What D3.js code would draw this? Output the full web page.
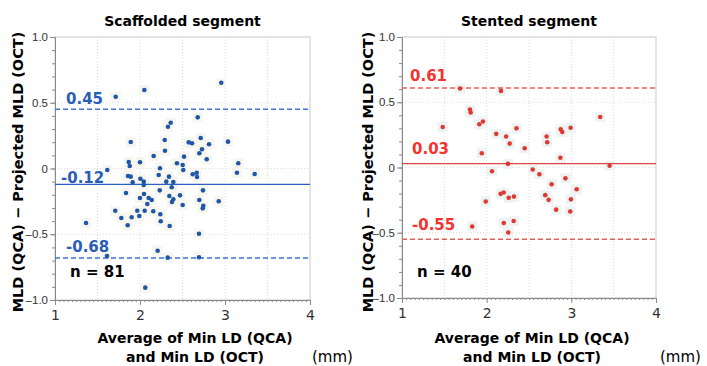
<!DOCTYPE html>
<html>
<head>
<meta charset="utf-8">
<script src="https://cdn.jsdelivr.net/npm/d3@7"></script>
<style>
  body { margin: 0; background: #fff; }
  text { font-family: "DejaVu Sans", Verdana, sans-serif; }
</style>
</head>
<body>
<svg></svg>
<script>
// Bland-Altman: MLD (QCA) - projected MLD (OCT) vs average of min LD

// scaffolded segment (n = 81)
let scaffAvg = [2.679, 2.361, 2.329, 1.891, 2.291, 2.573, 2.612, 2.714, 3.035, 2.812,
  2.729, 2.698, 2.294, 2.161, 2.518, 2.785, 1.867, 2.0, 1.879, 2.435,
  2.502, 2.235, 2.509, 3.156, 3.141, 3.349, 1.615, 1.859, 1.891, 2.220,
  2.341, 2.620, 2.667, 2.671, 2.004, 1.914, 2.044, 2.309, 2.392, 2.044,
  2.373, 2.232, 2.741, 1.835, 2.047, 2.345, 2.471, 2.0, 2.102, 2.392,
  2.138, 2.698, 2.926, 2.376, 2.086, 2.502, 2.745, 2.738, 1.709, 1.968,
  2.055, 2.156, 2.239, 1.780, 1.902, 1.992, 2.244, 1.365, 1.855, 2.349,
  2.694, 2.208, 1.612, 2.326, 2.694, 1.714, 2.051, 2.956, 2.062];
let scaffDiff = [0.389, 0.348, 0.318, 0.202, 0.217, 0.199, 0.192, 0.232, 0.204, 0.184,
  0.146, 0.116, 0.135, 0.095, 0.090, 0.070, 0.049, 0.047, 0.019, 0.040,
  0.027, 0.002, -0.011, 0.040, -0.032, -0.042, -0.011, -0.057, -0.062, -0.049,
  -0.062, -0.044, -0.032, -0.065, -0.078, -0.105, -0.100, -0.100, -0.103, -0.125,
  -0.143, -0.166, -0.166, -0.186, -0.194, -0.209, -0.204, -0.224, -0.224, -0.234,
  -0.240, -0.240, -0.249, -0.255, -0.270, -0.278, -0.283, -0.303, -0.321, -0.321,
  -0.321, -0.325, -0.348, -0.376, -0.371, -0.361, -0.401, -0.414, -0.432, -0.437,
  -0.496, -0.625, -0.665, -0.678, -0.675, 0.546, 0.597, 0.652, -0.906];

// stented segment (n = 40)
let stentAvg = [1.685, 2.169, 1.803, 1.811, 3.341, 1.481, 1.913, 1.956, 2.113, 2.230,
  2.352, 2.272, 2.449, 2.708, 2.715, 2.875, 2.893, 2.992, 1.942, 2.871,
  2.251, 3.452, 2.063, 2.544, 2.623, 2.930, 2.767, 3.063, 2.201, 2.165,
  2.692, 2.260, 2.322, 2.732, 2.995, 1.989, 2.821, 2.987, 2.202, 2.319,
  1.829, 2.255];
let stentDiff = [0.605, 0.587, 0.444, 0.421, 0.387, 0.310, 0.331, 0.352, 0.258, 0.238,
  0.300, 0.183, 0.148, 0.237, 0.194, 0.292, 0.272, 0.305, 0.109, 0.075,
  0.028, 0.014, -0.029, -0.015, -0.052, -0.083, -0.128, -0.167, -0.192, -0.202,
  -0.212, -0.232, -0.223, -0.248, -0.244, -0.260, -0.323, -0.337, -0.425, -0.410,
  -0.452, -0.498];

// mean bias, upper and lower limits of agreement
let scaffLines = [-0.12, 0.45, -0.68];
let stentLines = [0.03, 0.61, -0.55];

let titles = ['Scaffolded segment', 'Stented segment'];
let counts = ['n = 81', 'n = 40'];
let yTicks = [-1, -0.5, 0, 0.5, 1];
let yTickLabels = ['\u20131.0', '\u20130.5', '0', '0.5', '1.0'];
let xTicks = [1, 2, 3, 4];

let width = 707;
let height = 366;

let svg = d3.select('svg')
  .attr('width', width)
  .attr('height', height);

function panel(opt) {
  let xScale = d3.scaleLinear().domain([1, 4]).range([opt.left, opt.right]);
  let yScale = d3.scaleLinear().domain([-1, 1]).range([opt.bottom, opt.top]);
  let g = svg.append('g');

  // dotted grid every 0.5
  g.selectAll('.vgrid')
    .data(d3.range(1.5, 4, 0.5))
    .enter().append('line')
    .attr('x1', d => xScale(d)).attr('x2', d => xScale(d))
    .attr('y1', opt.top).attr('y2', opt.bottom)
    .attr('stroke', '#dcdcdc').attr('stroke-dasharray', '1,2');
  g.selectAll('.hgrid')
    .data([-0.5, 0, 0.5])
    .enter().append('line')
    .attr('x1', opt.left).attr('x2', opt.right)
    .attr('y1', d => yScale(d)).attr('y2', d => yScale(d))
    .attr('stroke', '#dcdcdc').attr('stroke-dasharray', '1,2');

  // frame
  g.append('rect')
    .attr('x', opt.left).attr('y', opt.top)
    .attr('width', opt.right - opt.left).attr('height', opt.bottom - opt.top)
    .attr('fill', 'none').attr('stroke', '#c8c8c8');

  // axes
  let yAxis = g.append('g')
    .attr('transform', 'translate(' + opt.left + ',0)')
    .call(d3.axisLeft(yScale).tickValues(yTicks)
      .tickFormat((d, i) => yTickLabels[i]).tickSize(5).tickPadding(2));
  g.append('g')
    .attr('transform', 'translate(' + opt.left + ',0)')
    .call(d3.axisLeft(yScale).tickValues(d3.range(-10, 11).map(d => d / 10)).tickFormat('').tickSize(3))
    .call(a => a.select('.domain').remove());
  let xAxis = g.append('g')
    .attr('transform', 'translate(0,' + opt.bottom + ')')
    .call(d3.axisBottom(xScale).tickValues(xTicks).tickFormat(d3.format('d')).tickSize(5).tickPadding(5));
  g.append('g')
    .attr('transform', 'translate(0,' + opt.bottom + ')')
    .call(d3.axisBottom(xScale).tickValues(d3.range(20, 81).map(d => d / 20)).tickFormat('').tickSize(2))
    .call(a => a.select('.domain').remove());
  g.selectAll('.domain, .tick line').attr('stroke', '#8a8a8a');
  yAxis.selectAll('text')
    .style('font-family', '"Liberation Sans", Arial, sans-serif')
    .style('font-size', '11.5px').attr('fill', '#333');
  xAxis.selectAll('text').style('font-size', '14px').attr('fill', '#333');

  // faint marker boxes and points
  g.selectAll('.halo')
    .data(opt.xs)
    .enter().append('rect')
    .attr('x', (d, i) => xScale(d) - 5)
    .attr('y', (d, i) => yScale(opt.ys[i]) - 5)
    .attr('width', 10).attr('height', 10)
    .attr('fill', opt.halo);

  // bias + limits
  g.append('line')
    .attr('x1', opt.left).attr('x2', opt.right)
    .attr('y1', yScale(opt.lines[0])).attr('y2', yScale(opt.lines[0]))
    .attr('stroke', opt.lineColor).attr('stroke-width', 1.3);
  g.selectAll('.loa')
    .data(opt.lines.slice(1))
    .enter().append('line')
    .attr('x1', opt.left).attr('x2', opt.right)
    .attr('y1', d => yScale(d)).attr('y2', d => yScale(d))
    .attr('stroke', opt.dashColor).attr('stroke-width', 1.5)
    .attr('stroke-dasharray', '5,3');

  g.selectAll('.pt')
    .data(opt.xs)
    .enter().append('circle')
    .attr('cx', d => xScale(d))
    .attr('cy', (d, i) => yScale(opt.ys[i]))
    .attr('r', 2.3)
    .attr('fill', opt.color);

  // line labels
  g.selectAll('.lab')
    .data(opt.lines)
    .enter().append('text')
    .attr('x', (d, i) => opt.labelX[i])
    .attr('y', (d, i) => yScale(d) + opt.labelDy[i])
    .style('font-size', '15px').style('font-weight', 'bold')
    .attr('fill', opt.labelColor)
    .text(d => d3.format('.2f')(d).replace('\u2212', '-'));

  g.append('text')
    .attr('x', opt.left + 15).attr('y', 277)
    .style('font-size', '15px').style('font-weight', 'bold')
    .text(opt.count);

  // title
  g.append('text')
    .attr('x', (opt.left + opt.right) / 2).attr('y', 26)
    .style('text-anchor', 'middle')
    .style('font-size', '14px').style('font-weight', 'bold')
    .text(opt.title);

  // y label
  g.append('text')
    .attr('transform', 'translate(' + opt.yLabelX + ',' + 172 + ') rotate(-90)')
    .style('text-anchor', 'middle')
    .style('font-size', '14.5px').style('font-weight', 'bold')
    .text('MLD (QCA) \u2212 Projected MLD (OCT)');

  // x label
  g.append('text')
    .attr('x', opt.xLabelX).attr('y', 343)
    .style('text-anchor', 'middle')
    .style('font-size', '14px').style('font-weight', 'bold')
    .text('Average of Min LD (QCA)');
  g.append('text')
    .attr('x', opt.xLabelX).attr('y', 362)
    .style('text-anchor', 'middle')
    .style('font-size', '14px').style('font-weight', 'bold')
    .text('and Min LD (OCT)');
  g.append('text')
    .attr('x', opt.mmX).attr('y', 362)
    .style('font-size', '15px')
    .text('(mm)');
}

panel({
  left: 55, right: 310, top: 37, bottom: 300,
  xs: scaffAvg, ys: scaffDiff, lines: scaffLines,
  color: '#1f56a8', halo: '#f6f6ee', lineColor: '#2a5fc4', dashColor: '#3f74d6',
  labelColor: '#2a5db5', labelX: [61, 66, 66], labelDy: [-1, -5, -6],
  count: counts[0], title: titles[0],
  yLabelX: 23, xLabelX: 195, mmX: 312
});

panel({
  left: 402, right: 656, top: 37, bottom: 298,
  xs: stentAvg, ys: stentDiff, lines: stentLines,
  color: '#df3a32', halo: '#edf3f3', lineColor: '#de453d', dashColor: '#e2605b',
  labelColor: '#f5332e', labelX: [412, 410, 412], labelDy: [-10, -7, -9],
  count: counts[1], title: titles[1],
  yLabelX: 373, xLabelX: 532, mmX: 660
});
</script>
</body>
</html>
